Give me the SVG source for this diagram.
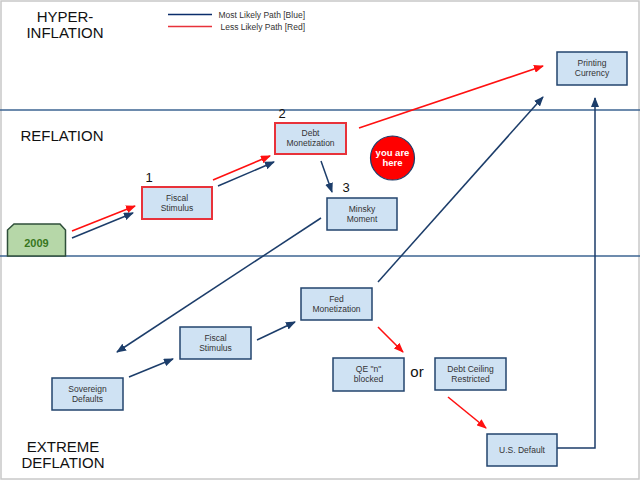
<svg xmlns="http://www.w3.org/2000/svg" width="640" height="481" viewBox="0 0 640 481">
<defs>
<style>
.node{fill:#cfe2f3;stroke:#23446e;stroke-width:1.5}
.rnode{fill:#cfe2f3;stroke:#e8323a;stroke-width:2}
.nt{font-family:"Liberation Sans",Arial,sans-serif;font-size:8.5px;fill:#333;text-anchor:middle}
.big{font-family:"Liberation Sans",Arial,sans-serif;font-size:15px;fill:#111;text-anchor:middle}
.num{font-family:"Liberation Sans",Arial,sans-serif;font-size:13px;fill:#111;text-anchor:middle}
.leg{font-family:"Liberation Sans",Arial,sans-serif;font-size:8.5px;fill:#333;text-anchor:end}
.band{stroke:#3d6592;stroke-width:1.5}
.b{stroke:#1c3d6a;stroke-width:1.5;fill:none;marker-end:url(#ab)}
.r{stroke:#ff1010;stroke-width:1.6;fill:none;marker-end:url(#ar)}
</style>
<marker id="ab" markerUnits="userSpaceOnUse" markerWidth="10" markerHeight="8" refX="9" refY="4" orient="auto"><path d="M0,0 L10,4 L0,8 z" fill="#1c3d6a"/></marker>
<marker id="ar" markerUnits="userSpaceOnUse" markerWidth="10" markerHeight="8" refX="9" refY="4" orient="auto"><path d="M0,0 L10,4 L0,8 z" fill="#ff1010"/></marker>
</defs>
<rect x="0" y="0" width="640" height="481" fill="#fff"/>
<rect x="1" y="1" width="638" height="478" fill="none" stroke="#c8c8c8" stroke-width="1.5"/>
<g id="bands">
<line class="band" x1="0" y1="110" x2="640" y2="110"/>
<line class="band" x1="0" y1="256" x2="640" y2="256"/>
</g>
<g id="labels">
<text class="big" x="65" y="22">HYPER-</text>
<text class="big" x="65" y="38">INFLATION</text>
<text class="big" x="62" y="141">REFLATION</text>
<text class="big" x="63" y="452">EXTREME</text>
<text class="big" x="63" y="468">DEFLATION</text>
<text class="num" x="149" y="182">1</text>
<text class="num" x="282" y="118">2</text>
<text class="num" x="346" y="192">3</text>
<text class="big" x="417" y="377">or</text>
</g>
<g id="legend">
<line x1="168" y1="14.5" x2="212" y2="14.5" stroke="#0b2d6b" stroke-width="1.5"/>
<line x1="168" y1="26.5" x2="212" y2="26.5" stroke="#e8323a" stroke-width="1.5"/>
<text class="leg" x="305" y="17.5">Most Likely Path [Blue]</text>
<text class="leg" x="305" y="30">Less Likely Path [Red]</text>
</g>
<g id="connectors">
<line class="r" x1="72" y1="231" x2="135" y2="206"/>
<line class="b" x1="72" y1="238" x2="133" y2="213"/>
<line class="r" x1="213" y1="180" x2="270" y2="156"/>
<line class="b" x1="218" y1="186" x2="274" y2="162"/>
<line class="r" x1="359" y1="128" x2="543" y2="66"/>
<line class="b" x1="321" y1="161" x2="332" y2="192"/>
<line class="b" x1="321" y1="218" x2="117" y2="352"/>
<line class="b" x1="129" y1="377" x2="173" y2="359"/>
<line class="b" x1="257" y1="340" x2="295" y2="322"/>
<line class="b" x1="378" y1="282" x2="543" y2="97"/>
<line class="r" x1="378" y1="327" x2="403" y2="352"/>
<line class="r" x1="448" y1="397" x2="486" y2="428"/>
<polyline class="b" points="557,448 595,448 595,98"/>
</g>
<g id="n2009">
<path d="M7.5,256 L7.5,230 L14,224 L60,224 L65.5,230 L65.5,256 Z" fill="#b6d7a8" stroke="#2f4f3a" stroke-width="1.5"/>
<text x="36.5" y="247" font-family="Liberation Sans,Arial,sans-serif" font-size="11px" font-weight="bold" fill="#38761d" text-anchor="middle">2009</text>
</g>
<g id="fiscal1">
<rect class="rnode" x="142" y="187" width="70" height="32"/>
<text class="nt" x="177" y="201">Fiscal</text>
<text class="nt" x="177" y="211">Stimulus</text>
</g>
<g id="debtmon">
<rect class="rnode" x="275" y="123" width="71" height="31"/>
<text class="nt" x="310.5" y="136">Debt</text>
<text class="nt" x="310.5" y="146">Monetization</text>
</g>
<g id="youarehere">
<circle cx="392.5" cy="158" r="22" fill="#ff0000" stroke="#1c3d6a" stroke-width="1.2"/>
<text x="392.5" y="156" font-family="Liberation Sans,Arial,sans-serif" font-size="9.5px" font-weight="bold" fill="#fff" text-anchor="middle">you are</text>
<text x="392.5" y="166" font-family="Liberation Sans,Arial,sans-serif" font-size="9.5px" font-weight="bold" fill="#fff" text-anchor="middle">here</text>
</g>
<g id="minsky">
<rect class="node" x="327" y="198" width="70" height="32"/>
<text class="nt" x="362" y="212">Minsky</text>
<text class="nt" x="362" y="222">Moment</text>
</g>
<g id="printing">
<rect class="node" x="557" y="52" width="70" height="33"/>
<text class="nt" x="592" y="66">Printing</text>
<text class="nt" x="592" y="76">Currency</text>
</g>
<g id="sovereign">
<rect class="node" x="52" y="378" width="71" height="32"/>
<text class="nt" x="87.5" y="392">Sovereign</text>
<text class="nt" x="87.5" y="402">Defaults</text>
</g>
<g id="fiscal2">
<rect class="node" x="180" y="327" width="71" height="32"/>
<text class="nt" x="215.5" y="341">Fiscal</text>
<text class="nt" x="215.5" y="351">Stimulus</text>
</g>
<g id="fedmon">
<rect class="node" x="301" y="288" width="71" height="32"/>
<text class="nt" x="336.5" y="302">Fed</text>
<text class="nt" x="336.5" y="312">Monetization</text>
</g>
<g id="qe">
<rect class="node" x="333" y="358" width="71" height="33"/>
<text class="nt" x="368.5" y="372">QE "n"</text>
<text class="nt" x="368.5" y="382">blocked</text>
</g>
<g id="debtceiling">
<rect class="node" x="435" y="358" width="71" height="32"/>
<text class="nt" x="470.5" y="372">Debt Ceiling</text>
<text class="nt" x="470.5" y="382">Restricted</text>
</g>
<g id="usdefault">
<rect class="node" x="487" y="434" width="70" height="32"/>
<text class="nt" x="522" y="453">U.S. Default</text>
</g>
</svg>
